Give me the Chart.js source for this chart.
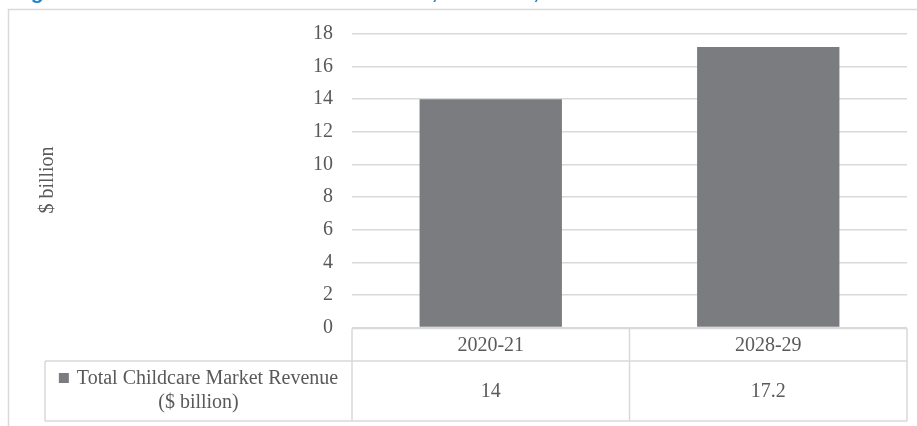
<!DOCTYPE html>
<html>
<head>
<meta charset="utf-8">
<script src="https://cdn.jsdelivr.net/npm/chart.js@4"></script>
<style>
  html, body { margin: 0; padding: 0; background: #ffffff; }
  #wrap { position: relative; width: 917px; height: 426px; overflow: hidden; }
  canvas { display: block; }
</style>
</head>
<body>
<div id="wrap"><canvas id="chart" width="917" height="426"></canvas></div>
<script>
// Chart content
const titleText = 'Figure 3.1: Total childcare market revenue, Australia, 2020-21 to 2028-29';
const categories = ['2020-21', '2028-29'];
const revenue = [14, 17.2];
const seriesName = ['Total Childcare Market Revenue', '($ billion)'];
const yTitle = '$ billion';
const yTicks = [0, 2, 4, 6, 8, 10, 12, 14, 16, 18];

const serif = '"Liberation Serif", "DejaVu Serif", serif';
const textGrey = '#595959';
const lineGrey = '#d9d9d9';
const barGrey = '#7b7c80';

// Frame, clipped title, axis title and the data table under the plot
const decorations = {
  id: 'decorations',
  beforeDraw(chart) {
    const ctx = chart.ctx;
    ctx.save();
    // title, sitting almost entirely above the top edge
    ctx.fillStyle = '#1f82cc';
    ctx.font = 'bold 21px "Liberation Sans", Arial, sans-serif';
    ctx.textAlign = 'left';
    ctx.textBaseline = 'alphabetic';
    ctx.fillText(titleText, 12, -1);
    // outer frame
    ctx.strokeStyle = lineGrey;
    ctx.lineWidth = 1.5;
    ctx.beginPath();
    ctx.moveTo(8.5, 430);
    ctx.lineTo(8.5, 9.5);
    ctx.lineTo(920, 9.5);
    ctx.stroke();
    // vertical axis title
    ctx.fillStyle = textGrey;
    ctx.font = '20px ' + serif;
    ctx.textAlign = 'center';
    ctx.textBaseline = 'middle';
    ctx.translate(48, 180);
    ctx.rotate(-Math.PI / 2);
    ctx.fillText(yTitle, 0, 0);
    ctx.restore();
  },
  afterDraw(chart) {
    const ctx = chart.ctx;
    const a = chart.chartArea;
    const x = chart.scales.x;
    const left = a.left, right = a.right;
    const mid = (left + right) / 2;
    const top = a.bottom + 1;
    const row1 = 361;
    const bottom = 421;
    const legendLeft = 45;

    ctx.save();
    ctx.strokeStyle = lineGrey;
    ctx.lineWidth = 1.5;
    ctx.beginPath();
    // horizontal rules
    ctx.moveTo(left, top); ctx.lineTo(right, top);
    ctx.moveTo(legendLeft, row1); ctx.lineTo(right, row1);
    ctx.moveTo(legendLeft, bottom); ctx.lineTo(right, bottom);
    // vertical rules
    ctx.moveTo(left, top); ctx.lineTo(left, bottom);
    ctx.moveTo(mid, top); ctx.lineTo(mid, bottom);
    ctx.moveTo(right, top); ctx.lineTo(right, bottom);
    ctx.moveTo(legendLeft, row1); ctx.lineTo(legendLeft, bottom);
    ctx.stroke();

    ctx.fillStyle = textGrey;
    ctx.font = '20px ' + serif;
    ctx.textAlign = 'center';
    ctx.textBaseline = 'middle';
    categories.forEach((c, i) => {
      const cx = x.getPixelForValue(i);
      ctx.fillText(c, cx, (top + row1) / 2 + 1);
      ctx.fillText(String(revenue[i]), cx, (row1 + bottom) / 2 + 1);
    });

    // legend cell: marker + first line centred together, second line centred
    const cellMid = (legendLeft + left) / 2;
    const w0 = ctx.measureText(seriesName[0]).width;
    const markerW = 10, gap = 8;
    const lineStart = cellMid - (markerW + gap + w0) / 2;
    ctx.textAlign = 'left';
    ctx.fillText(seriesName[0], lineStart + markerW + gap, 379);
    ctx.textAlign = 'center';
    ctx.fillText(seriesName[1], cellMid, 403);
    ctx.fillStyle = barGrey;
    ctx.fillRect(lineStart, 373, markerW, markerW);
    ctx.restore();
  }
};

new Chart(document.getElementById('chart'), {
  type: 'bar',
  data: {
    labels: categories,
    datasets: [{
      label: seriesName.join(' '),
      data: revenue,
      backgroundColor: barGrey,
      borderWidth: 0,
      categoryPercentage: 1,
      barPercentage: 0.513
    }]
  },
  options: {
    responsive: false,
    animation: false,
    layout: { padding: { top: 34, right: 10, left: 0, bottom: 0 } },
    plugins: {
      legend: { display: false },
      tooltip: { enabled: false }
    },
    scales: {
      x: {
        grid: { display: false },
        border: { display: false },
        ticks: { display: false },
        afterFit(s) { s.height = 98.5; }
      },
      y: {
        min: 0,
        max: 18,
        afterBuildTicks(s) { s.ticks = yTicks.map(v => ({ value: v })); },
        afterFit(s) { s.width = 352; },
        grid: { color: lineGrey, lineWidth: 1.5, drawTicks: false },
        border: { display: false },
        ticks: {
          color: textGrey,
          font: { family: serif, size: 20 },
          padding: 19
        }
      }
    }
  },
  plugins: [decorations]
});
</script>
</body>
</html>
